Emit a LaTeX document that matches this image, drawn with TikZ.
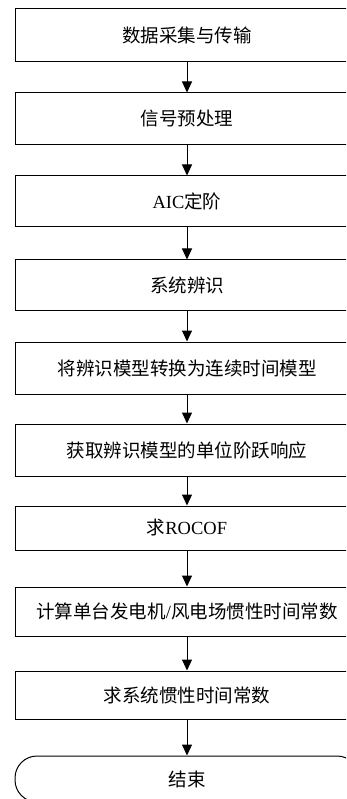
\documentclass[tikz,border=0pt]{standalone}
\usepackage{fontspec}
\setmainfont{Liberation Serif}
\newfontfamily\cjk{Noto Sans CJK SC}
\newfontfamily\latf{Liberation Serif}
\usetikzlibrary{arrows.meta}
\begin{document}
\begin{tikzpicture}[x=1pt,y=-1pt,
  stepbox/.style={draw=black, line width=1pt, minimum width=344pt, inner sep=0pt,
    font=\fontsize{18.5pt}{20pt}\cjk},
  endbox/.style={stepbox, rounded corners=22pt},
  flow/.style={-{Triangle[width=10pt,length=11pt]}, line width=1pt}]
\useasboundingbox (0,0) rectangle (346,799);
\clip (0,0) rectangle (346,799);
\node[stepbox, minimum height=53pt] (b1) at (187,35.5) {数据采集与传输};
\node[stepbox, minimum height=52pt] (b2) at (187,119) {信号预处理};
\node[stepbox, minimum height=51pt] (b3) at (187,201.5) {{\latf AIC}定阶};
\node[stepbox, minimum height=50pt] (b4) at (187,285) {系统辨识};
\node[stepbox, minimum height=52pt] (b5) at (187,368) {将辨识模型转换为连续时间模型};
\node[stepbox, minimum height=52pt] (b6) at (187,450) {获取辨识模型的单位阶跃响应};
\node[stepbox, minimum height=44pt] (b7) at (187,528) {求{\latf ROCOF}};
\node[stepbox, minimum height=49pt] (b8) at (187,611.5) {计算单台发电机{\latf /}风电场惯性时间常数};
\node[stepbox, minimum height=48pt] (b9) at (187,695) {求系统惯性时间常数};
\node[endbox, minimum height=46pt] (b10) at (187,779) {结束};
\foreach \a/\b in {b1/b2,b2/b3,b3/b4,b4/b5,b5/b6,b6/b7,b7/b8,b8/b9,b9/b10}
  \draw[flow] (\a.south) -- (\b.north);
\end{tikzpicture}
\end{document}
